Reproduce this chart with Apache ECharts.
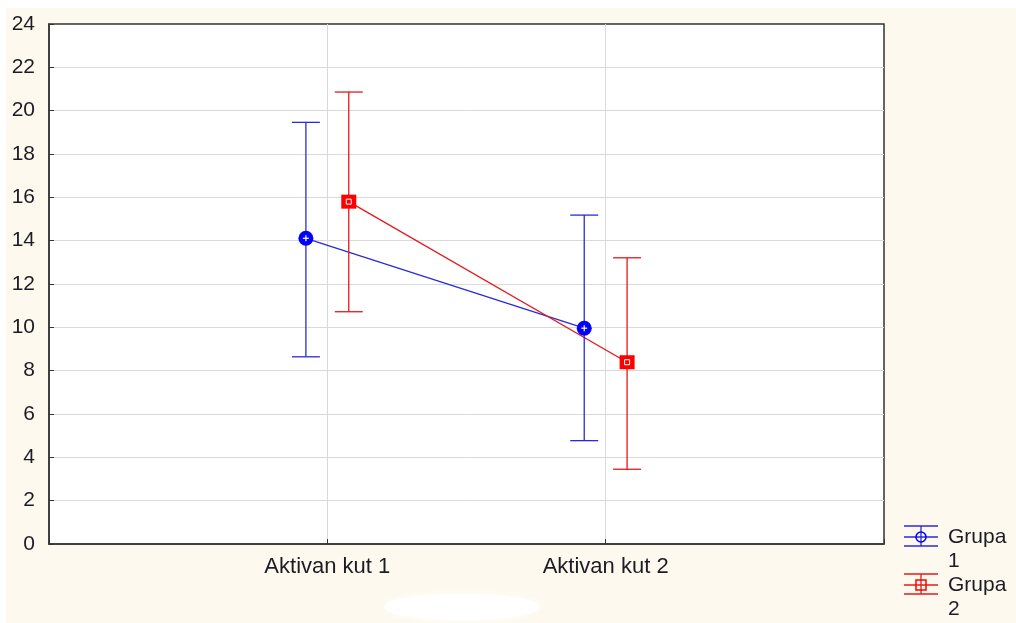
<!DOCTYPE html>
<html>
<head>
<meta charset="utf-8">
<script src="https://cdn.jsdelivr.net/npm/echarts@6/dist/echarts.min.js"></script>
<style>
html,body{margin:0;padding:0;background:#ffffff;}
#main{position:absolute;left:6px;top:8px;width:1010px;height:615px;}
</style>
</head>
<body>
<div id="main"></div>
<script>
// ---- data ----
const categories = ['Aktivan kut 1', 'Aktivan kut 2'];
const groups = ['Grupa 1', 'Grupa 2'];
const group1Mean  = [14.11, 9.96];
const group1Upper = [19.46, 15.18];
const group1Lower = [8.64, 4.77];
const group2Mean  = [15.80, 8.39];
const group2Upper = [20.86, 13.21];
const group2Lower = [10.72, 3.45];
const yTicks = [0, 2, 4, 6, 8, 10, 12, 14, 16, 18, 20, 22, 24];

// ---- styling / layout ----
const OFFSET = 0.077;
const blueLine = '#2a2ad8', blueMark = '#0000ff';
const redLine = '#e01a1a', redMark = '#ff0000';
const FONT = 'Liberation Sans, Arial, sans-serif';
const TEXT = '#1c1c24';

function pts(means, off) {
  return means.map((m, i) => [i + 1 + off, m]);
}
function bars(means, lo, hi, off) {
  return means.map((m, i) => [i + 1 + off, lo[i], hi[i], m]);
}

function makeRender(color, markColor, shape) {
  return function (params, api) {
    const x = api.value(0);
    const pLo = api.coord([x, api.value(1)]);
    const pHi = api.coord([x, api.value(2)]);
    const pM = api.coord([x, api.value(3)]);
    const hw = 14;
    const ls = { stroke: color, lineWidth: 1.3 };
    const children = [
      { type: 'line', shape: { x1: pLo[0], y1: pLo[1], x2: pHi[0], y2: pHi[1] }, style: ls },
      { type: 'line', shape: { x1: pHi[0] - hw, y1: pHi[1], x2: pHi[0] + hw, y2: pHi[1] }, style: ls },
      { type: 'line', shape: { x1: pLo[0] - hw, y1: pLo[1], x2: pLo[0] + hw, y2: pLo[1] }, style: ls }
    ];
    if (shape === 'circle') {
      children.push({ type: 'circle', shape: { cx: pM[0], cy: pM[1], r: 7.5 }, style: { fill: markColor } });
      children.push({ type: 'line', shape: { x1: pM[0] - 3, y1: pM[1], x2: pM[0] + 3, y2: pM[1] }, style: { stroke: '#fff', lineWidth: 1.2 } });
      children.push({ type: 'line', shape: { x1: pM[0], y1: pM[1] - 3, x2: pM[0], y2: pM[1] + 3 }, style: { stroke: '#fff', lineWidth: 1.2 } });
    } else {
      children.push({ type: 'rect', shape: { x: pM[0] - 7.5, y: pM[1] - 7, width: 15, height: 14 }, style: { fill: markColor } });
      children.push({ type: 'rect', shape: { x: pM[0] - 2.5, y: pM[1] - 2.5, width: 5, height: 5 }, style: { fill: 'none', stroke: '#fff', lineWidth: 1 } });
    }
    return { type: 'group', children: children };
  };
}

const chart = echarts.init(document.getElementById('main'));

// legend drawn as graphic (relative to container)
function legendItem(y, color, markColor, shape, name) {
  const cx = 915, els = [];
  const ls = { stroke: color, lineWidth: 1.3 };
  els.push({ type: 'line', shape: { x1: 898, y1: y - 11, x2: 932, y2: y - 11 }, style: ls });
  els.push({ type: 'line', shape: { x1: 898, y1: y, x2: 932, y2: y }, style: ls });
  els.push({ type: 'line', shape: { x1: 898, y1: y + 9, x2: 932, y2: y + 9 }, style: ls });
  els.push({ type: 'line', shape: { x1: cx, y1: y - 11, x2: cx, y2: y + 9 }, style: ls });
  if (shape === 'circle') {
    els.push({ type: 'circle', shape: { cx: cx, cy: y, r: 5 }, style: { fill: 'none', stroke: markColor, lineWidth: 1.5 } });
  } else {
    els.push({ type: 'rect', shape: { x: cx - 5, y: y - 5, width: 10, height: 10 }, style: { fill: 'none', stroke: markColor, lineWidth: 1.5 } });
  }
  els.push({ type: 'text', x: 942, y: y - 12, style: { text: name.replace(' ', '\n'), font: '21px ' + FONT, fill: TEXT, lineHeight: 24 } });
  return els;
}

const option = {
  backgroundColor: '#fdf9ee',
  animation: false,
  grid: { left: 43, top: 16, right: 132, bottom: 79, show: true, backgroundColor: '#ffffff', borderColor: '#333', borderWidth: 1.5 },
  xAxis: {
    type: 'value', min: 0, max: categories.length + 1, interval: 1,
    axisLine: { show: true, lineStyle: { color: '#333', width: 1.5 } },
    axisTick: { show: true, inside: true, length: 5, lineStyle: { color: '#333' } },
    axisLabel: {
      fontSize: 22, fontFamily: FONT, color: TEXT, margin: 12,
      formatter: v => (v >= 1 && v <= categories.length) ? categories[v - 1] : ''
    },
    splitLine: { show: true, showMinLine: false, showMaxLine: false, lineStyle: { color: '#d9d9d9', width: 1 } }
  },
  yAxis: {
    type: 'value', min: yTicks[0], max: yTicks[yTicks.length - 1], interval: yTicks[1] - yTicks[0],
    axisLine: { show: true, lineStyle: { color: '#333', width: 1.5 } },
    axisTick: { show: true, inside: true, length: 5, lineStyle: { color: '#333' } },
    axisLabel: { fontSize: 21, fontFamily: FONT, color: TEXT, margin: 14 },
    splitLine: { show: true, showMinLine: false, showMaxLine: false, lineStyle: { color: '#d9d9d9', width: 1 } }
  },
  graphic: [
    { type: 'ellipse', shape: { cx: 456, cy: 599, rx: 78, ry: 13 }, style: { fill: '#ffffff', shadowBlur: 8, shadowColor: '#ffffff' } }
  ].concat(legendItem(529, blueLine, blueMark, 'circle', groups[0]))
   .concat(legendItem(577, redLine, redMark, 'rect', groups[1])),
  series: [
    { name: groups[0], type: 'line', data: pts(group1Mean, -OFFSET), showSymbol: false, lineStyle: { color: blueLine, width: 1.3 }, z: 3 },
    { name: groups[1], type: 'line', data: pts(group2Mean, OFFSET), showSymbol: false, lineStyle: { color: redLine, width: 1.3 }, z: 3 },
    { type: 'custom', data: bars(group1Mean, group1Lower, group1Upper, -OFFSET), encode: { x: 0, y: [1, 2, 3] }, renderItem: makeRender(blueLine, blueMark, 'circle'), z: 4 },
    { type: 'custom', data: bars(group2Mean, group2Lower, group2Upper, OFFSET), encode: { x: 0, y: [1, 2, 3] }, renderItem: makeRender(redLine, redMark, 'rect'), z: 4 }
  ]
};
chart.setOption(option);
</script>
</body>
</html>
